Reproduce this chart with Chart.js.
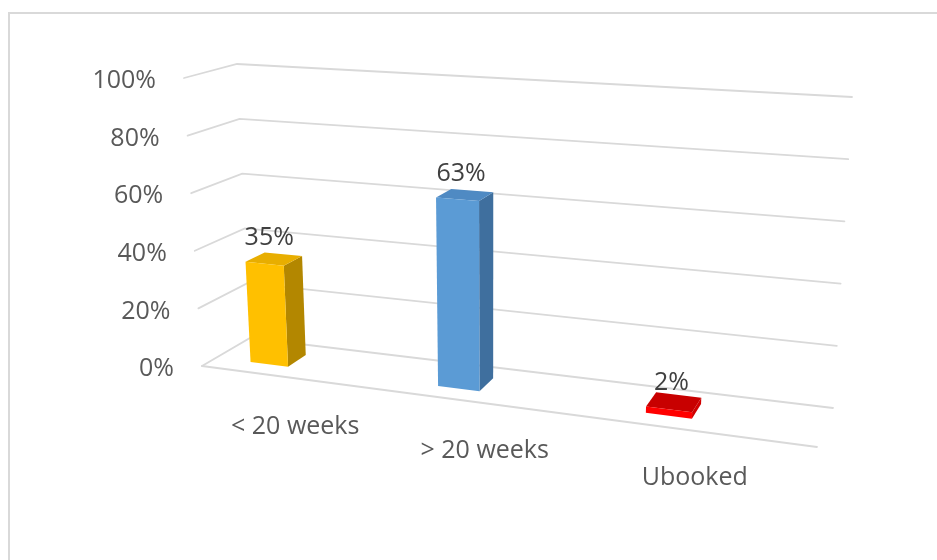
<!DOCTYPE html>
<html>
<head>
<meta charset="utf-8">
<script src="https://cdn.jsdelivr.net/npm/chart.js@4.4.1/dist/chart.umd.min.js"></script>
<style>
  html, body { margin: 0; padding: 0; background: #ffffff; }
  #wrap { position: relative; width: 937px; height: 560px; }
  canvas { display: block; }
</style>
</head>
<body>
<div id="wrap"><canvas id="chart" width="937" height="560"></canvas></div>
<script>
// ---- data ----
const categories = ['< 20 weeks', '> 20 weeks', 'Ubooked'];
const shares = [35, 63, 2];
const tickValues = [0, 20, 40, 60, 80, 100];
const tickLabels = tickValues.map(v => v + '%');

// ---- styles ----
const faceColors = ['#FFC000', '#5B9BD5', '#FF0000'];
const topColors  = ['#E8AE00', '#4F8AC3', '#C80000'];
const sideColors = ['#B38700', '#3F6F9E', '#D00000'];
const gridColor = '#d9d9d9';
const axisText = '#595959';
const valueText = '#404040';
const FONT = '25px "Open Sans", "Liberation Sans", sans-serif';

// Screen frame of the 3D plot box: back wall (w = 0) and front edge (w = 1),
// each given by its left/right bottom/top corners.
const frame = {
  back:  { lb: [250, 338], rb: [833, 408], lt: [237, 64], rt: [852, 97] },
  front: { lb: [202, 366], rb: [817, 447], lt: [184, 78], rt: [837, 114] }
};
// Perspective warp along the category axis (the right side is nearer).
const warp = u => (0.859 * u - 0.058) / (1 - 0.1435 * u);
// Bar slab position in depth.
const barDepth = [0.3, 0.7];

function lerp(a, b, t) { return [a[0] + (b[0] - a[0]) * t, a[1] + (b[1] - a[1]) * t]; }
function project(u, v, w) {
  const face = f => lerp(lerp(f.lb, f.rb, u), lerp(f.lt, f.rt, u), v);
  return lerp(face(frame.back), face(frame.front), w);
}
function poly(ctx, pts, fill) {
  ctx.beginPath();
  ctx.moveTo(pts[0][0], pts[0][1]);
  for (let i = 1; i < pts.length; i++) ctx.lineTo(pts[i][0], pts[i][1]);
  ctx.closePath();
  ctx.fillStyle = fill;
  ctx.fill();
}

const perspectivePlot = {
  id: 'perspectivePlot',
  afterDraw(chart) {
    const ctx = chart.ctx;
    const area = chart.chartArea;
    const yScale = chart.scales.y;
    const normU = px => (px - area.left) / (area.right - area.left);
    const normV = py => (area.bottom - py) / (area.bottom - area.top);

    ctx.save();

    // outer frame
    ctx.strokeStyle = '#d9d9d9';
    ctx.lineWidth = 2;
    ctx.strokeRect(9, 13, 940, 560);

    // walls: value gridlines on the side wall and the back wall
    ctx.strokeStyle = gridColor;
    ctx.lineWidth = 1.8;
    ctx.lineCap = 'round';
    tickValues.forEach(t => {
      const v = normV(yScale.getPixelForValue(t));
      const a = project(0, v, 1), b = project(0, v, 0), c = project(1, v, 0);
      ctx.beginPath();
      ctx.moveTo(a[0], a[1]);
      ctx.lineTo(b[0], b[1]);
      ctx.lineTo(c[0], c[1]);
      ctx.stroke();
    });
    // front edge of the floor
    const f0 = project(0, 0, 1), f1 = project(1, 0, 1);
    ctx.beginPath();
    ctx.moveTo(f0[0], f0[1]);
    ctx.lineTo(f1[0], f1[1]);
    ctx.stroke();

    // value axis labels
    ctx.font = FONT;
    ctx.fillStyle = axisText;
    ctx.textAlign = 'right';
    ctx.textBaseline = 'middle';
    tickValues.forEach((t, i) => {
      const v = normV(yScale.getPixelForValue(t));
      const p = project(0, v, 1);
      ctx.fillText(tickLabels[i], p[0] - 28, p[1] + 3);
    });

    // columns
    const meta = chart.getDatasetMeta(0);
    meta.data.forEach((el, i) => {
      const { x, y, base, width } = el.getProps(['x', 'y', 'base', 'width'], true);
      const u0 = warp(normU(x - width / 2));
      const u1 = warp(normU(x + width / 2));
      const uc = warp(normU(x));
      const v0 = normV(base), v1 = normV(y);
      const [wb, wf] = barDepth;

      poly(ctx, [project(u1, v0, wf), project(u1, v0, wb), project(u1, v1, wb), project(u1, v1, wf)], sideColors[i]);
      poly(ctx, [project(u0, v1, wf), project(u1, v1, wf), project(u1, v1, wb), project(u0, v1, wb)], topColors[i]);
      poly(ctx, [project(u0, v0, wf), project(u1, v0, wf), project(u1, v1, wf), project(u0, v1, wf)], faceColors[i]);

      // value label above the column
      const lp = project(uc, v1, 0.6);
      ctx.fillStyle = valueText;
      ctx.textAlign = 'center';
      ctx.textBaseline = 'middle';
      ctx.fillText(shares[i] + '%', lp[0], lp[1] - 23);

      // category label in front of the floor
      const cp = project(uc, 0, wf);
      ctx.fillStyle = axisText;
      ctx.fillText(categories[i], cp[0] + 26, cp[1] + 62);
    });

    ctx.restore();
  }
};

new Chart(document.getElementById('chart'), {
  type: 'bar',
  data: {
    labels: categories,
    datasets: [{
      data: shares,
      backgroundColor: 'rgba(0,0,0,0)',
      borderWidth: 0,
      categoryPercentage: 0.8,
      barPercentage: 0.26
    }]
  },
  options: {
    responsive: false,
    animation: false,
    layout: { padding: { left: 200, right: 100, top: 70, bottom: 190 } },
    plugins: { legend: { display: false }, tooltip: { enabled: false } },
    scales: {
      x: { display: false },
      y: { display: false, min: 0, max: 100, ticks: { stepSize: 20 } }
    }
  },
  plugins: [perspectivePlot]
});
</script>
</body>
</html>
